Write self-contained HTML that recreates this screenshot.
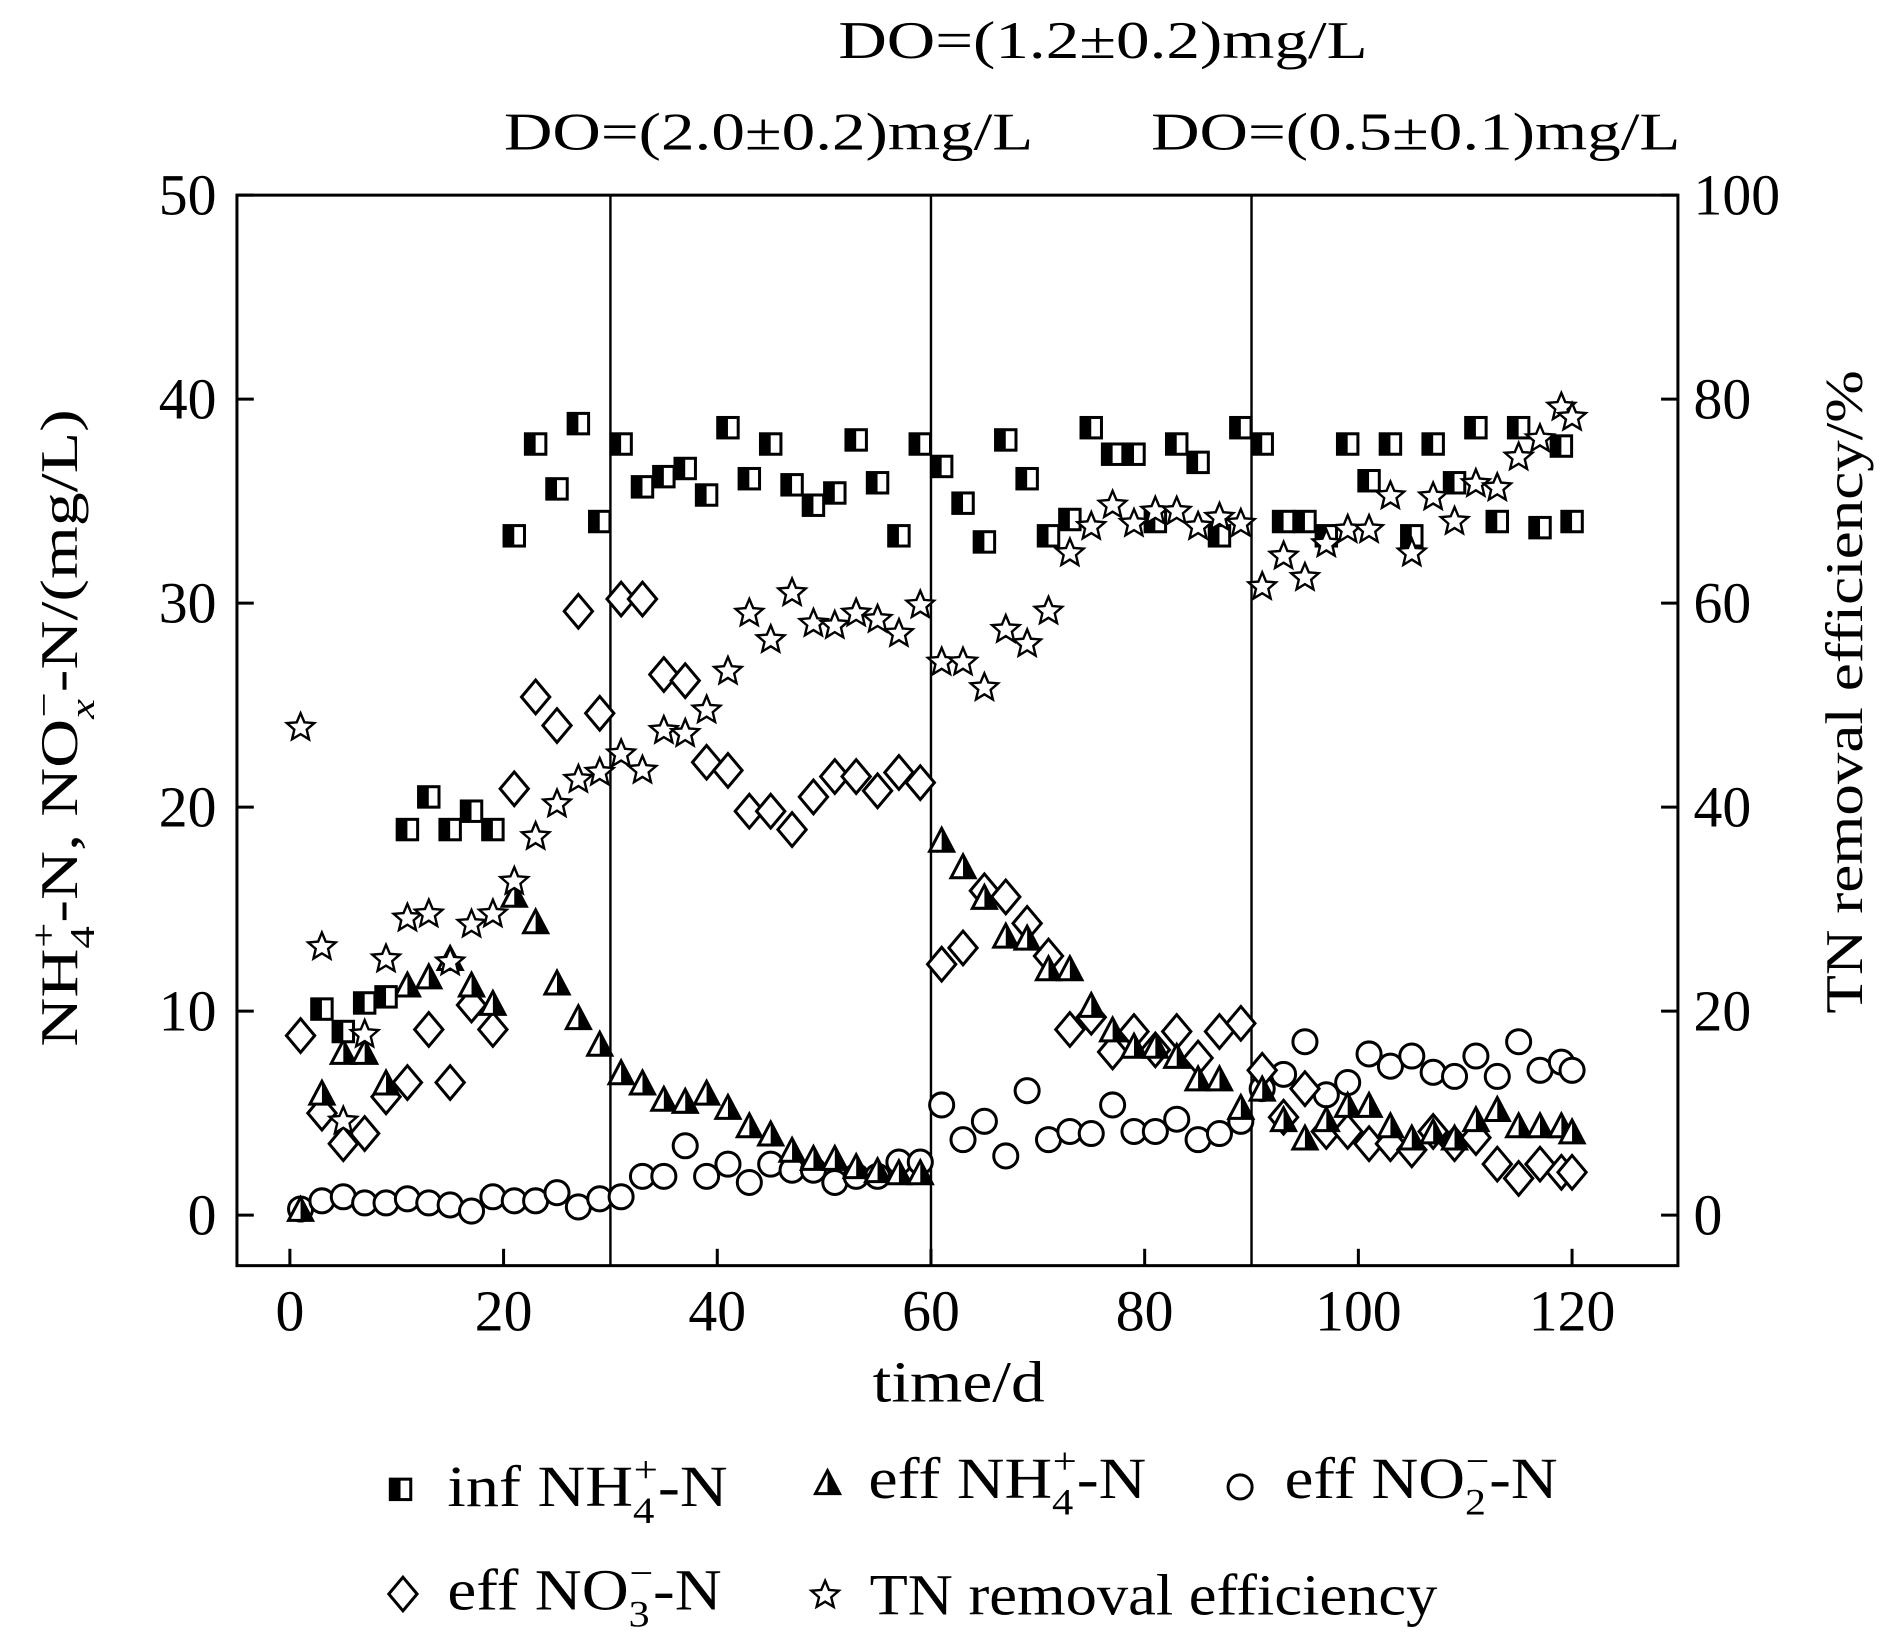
<!DOCTYPE html>
<html><head><meta charset="utf-8"><style>
html,body{margin:0;padding:0;background:#fff;}
svg{display:block;}
text{font-family:"Liberation Serif",serif;fill:#000;}
</style></head><body>
<svg id="chart" width="1886" height="1640" viewBox="0 0 1568 1363" xmlns="http://www.w3.org/2000/svg">
<g id="static">
<text x="917" y="48" font-size="44" text-anchor="middle" textLength="440" lengthAdjust="spacingAndGlyphs">DO=(1.2±0.2)mg/L</text>
<text x="639" y="124" font-size="44" text-anchor="middle" textLength="440" lengthAdjust="spacingAndGlyphs">DO=(2.0±0.2)mg/L</text>
<text x="1177" y="124" font-size="44" text-anchor="middle" textLength="440" lengthAdjust="spacingAndGlyphs">DO=(0.5±0.1)mg/L</text>
<rect x="197" y="162" width="1198" height="890" fill="none" stroke="#000" stroke-width="2.5"/>
<text x="797" y="1165" font-size="48" text-anchor="middle" textLength="143" lengthAdjust="spacingAndGlyphs">time/d</text>
<text transform="translate(64,605) rotate(-90)" font-size="44" text-anchor="middle" textLength="530" lengthAdjust="spacingAndGlyphs">NH<tspan font-size="29" dy="14">4</tspan><tspan font-size="29" dx="-14" dy="-32">+</tspan><tspan font-size="44" dy="18">-N, NO</tspan><tspan font-size="29" dy="14" font-style="italic">x</tspan><tspan font-size="29" dx="-12" dy="-32">−</tspan><tspan font-size="44" dy="18">-N/(mg/L)</tspan></text>
<text transform="translate(1548,575) rotate(-90)" font-size="44" text-anchor="middle" textLength="535" lengthAdjust="spacingAndGlyphs">TN removal efficiency/%</text>
<g>
<text x="372" y="1252" font-size="48" textLength="233" lengthAdjust="spacingAndGlyphs">inf NH<tspan font-size="31" dy="14">4</tspan><tspan font-size="31" dx="-15" dy="-34">+</tspan><tspan font-size="48" dy="20">-N</tspan></text>
<text x="722" y="1245" font-size="48" textLength="231" lengthAdjust="spacingAndGlyphs">eff NH<tspan font-size="31" dy="14">4</tspan><tspan font-size="31" dx="-15" dy="-34">+</tspan><tspan font-size="48" dy="20">-N</tspan></text>
<text x="1068" y="1245" font-size="48" textLength="227" lengthAdjust="spacingAndGlyphs">eff NO<tspan font-size="31" dy="14">2</tspan><tspan font-size="31" dx="-15" dy="-34">−</tspan><tspan font-size="48" dy="20">-N</tspan></text>
<text x="372" y="1338" font-size="48" textLength="228" lengthAdjust="spacingAndGlyphs">eff NO<tspan font-size="31" dy="14">3</tspan><tspan font-size="31" dx="-15" dy="-34">−</tspan><tspan font-size="48" dy="20">-N</tspan></text>
<text x="723" y="1342" font-size="48" textLength="472" lengthAdjust="spacingAndGlyphs">TN removal efficiency</text>
</g>
</g>
<g id="marks"></g>
</svg>
<script>
const xTicks=[0,20,40,60,80,100,120];
const yTicks=[0,10,20,30,40,50];
const y2Ticks=[0,20,40,60,80,100];
const phaseBoundaries=[30,60,90];

const infDays=[3,5,7,9,11,13,15,17,19,21,23,25,27,29,31,33,35,37,39,41,43,45,47,49,51,53,55,57,59,61,63,65,67,69,71,73,75,77,79,81,83,85,87,89,91,93,95,97,99,101,103,105,107,109,111,113,115,117,119,120];
const infNH4=[10.1,9.0,10.4,10.7,18.9,20.5,18.9,19.8,18.9,33.3,37.8,35.6,38.8,34.0,37.8,35.7,36.2,36.6,35.3,38.6,36.1,37.8,35.8,34.8,35.4,38.0,35.9,33.3,37.8,36.7,34.9,33.0,38.0,36.1,33.3,34.1,38.6,37.3,37.3,34.0,37.8,36.9,33.3,38.6,37.8,34.0,34.0,33.3,37.8,36.0,37.8,33.3,37.8,35.9,38.6,34.0,38.6,33.7,37.7,34.0];

const days=[1,3,5,7,9,11,13,15,17,19,21,23,25,27,29,31,33,35,37,39,41,43,45,47,49,51,53,55,57,59,61,63,65,67,69,71,73,75,77,79,81,83,85,87,89,91,93,95,97,99,101,103,105,107,109,111,113,115,117,119,120];
const effNH4=[0.3,6.0,8.0,8.0,6.5,11.3,11.7,12.6,11.3,10.4,15.7,14.4,11.4,9.7,8.4,7.0,6.5,5.7,5.6,6.0,5.3,4.4,4.0,3.2,2.8,2.8,2.4,2.2,2.1,2.1,18.4,17.1,15.6,13.7,13.6,12.1,12.1,10.3,9.1,8.3,8.3,7.8,6.7,6.7,5.3,6.2,4.7,3.8,4.7,5.4,5.4,4.4,3.8,4.1,3.8,4.7,5.2,4.4,4.4,4.4,4.1];
const effNO2=[0.3,0.7,0.9,0.6,0.6,0.8,0.6,0.5,0.2,0.9,0.7,0.7,1.1,0.4,0.8,0.9,1.9,1.9,3.4,1.9,2.5,1.6,2.5,2.2,2.2,1.6,1.9,1.9,2.6,2.6,5.4,3.7,4.6,2.9,6.1,3.7,4.1,4.0,5.4,4.1,4.1,4.7,3.7,4.0,4.6,6.2,6.9,8.5,5.9,6.5,7.9,7.3,7.8,7.0,6.8,7.8,6.8,8.5,7.1,7.5,7.1];
const effNO3=[8.8,5.0,3.5,4.0,5.8,6.5,9.1,6.5,10.3,9.1,20.9,25.4,24.0,29.6,24.6,30.2,30.2,26.5,26.2,22.2,21.8,19.8,19.8,18.9,20.5,21.5,21.5,20.8,21.7,21.2,12.3,13.1,15.9,15.6,14.3,12.7,9.1,9.7,8.0,9.0,8.1,9.0,7.7,9.0,9.4,7.1,4.8,6.2,4.1,4.1,3.5,3.5,3.2,4.1,3.5,3.8,2.5,1.8,2.5,2.1,2.1];
const tnRemoval=[47.8,26.3,9.2,17.7,25.1,29.1,29.5,24.8,28.5,29.5,32.7,37.1,40.3,42.7,43.4,45.2,43.6,47.5,47.2,49.5,53.3,59.0,56.4,61.0,58.0,57.8,59.0,58.4,57.0,59.8,54.2,54.2,51.7,57.4,56.0,59.2,64.9,67.5,69.6,67.8,69.0,69.0,67.5,68.4,67.8,61.6,64.6,62.5,65.8,67.2,67.2,70.5,64.9,70.4,68.0,71.7,71.3,74.3,76.1,79.2,78.2];

const NS='http://www.w3.org/2000/svg';
const X0=197,X1=1395,Y0=162,Y1=1052;
const xs=d=>241+(d-0)*(1307-241)/120;
const ys=v=>1010-v*(1010-162)/50;
const ys2=v=>1010-v*(1010-162)/100;
const marks=document.getElementById('marks');
function el(tag,attrs,parent){const e=document.createElementNS(NS,tag);for(const k in attrs)e.setAttribute(k,attrs[k]);(parent||marks).appendChild(e);return e;}

xTicks.forEach(t=>{
  const l=el('line',{x1:xs(t),x2:xs(t),y1:Y1,y2:Y1-14,stroke:'#000','stroke-width':2.5});
  
  
  const tx=el('text',{x:xs(t),y:1106,'font-size':48,'text-anchor':'middle'});
  tx.textContent=t;
  
  
});
yTicks.forEach(t=>{
  const l=el('line',{x1:X0,x2:X0+14,y1:ys(t),y2:ys(t),stroke:'#000','stroke-width':2.5});
  
  
  const tx=el('text',{x:180,y:ys(t)+16,'font-size':48,'text-anchor':'end'});
  tx.textContent=t;
  
  
});
y2Ticks.forEach(t=>{
  const l=el('line',{x1:X1-14,x2:X1,y1:ys2(t),y2:ys2(t),stroke:'#000','stroke-width':2.5});
  
  
  const tx=el('text',{x:1408,y:ys2(t)+16,'font-size':48,'text-anchor':'start'});
  tx.textContent=t;
  
  
});
phaseBoundaries.forEach(d=>{
  const l=el('line',{x1:xs(d),x2:xs(d),y1:Y0,y2:Y1,stroke:'#000','stroke-width':2});
  
  
});

function square(x,y,s){const g=el('g',{});
  el('rect',{x:x-s/2,y:y-s/2,width:s,height:s,fill:'#fff',stroke:'#000','stroke-width':2.5},g);
  el('rect',{x:x-s/2,y:y-s/2,width:s/2,height:s,fill:'#000'},g);return g;}
function tri(x,y,s){const g=el('g',{});
  const h=s*0.95;
  el('polygon',{points:`${x},${y-h/2} ${x+s/2},${y+h/2} ${x-s/2},${y+h/2}`,fill:'#fff',stroke:'#000','stroke-width':2.5},g);
  el('polygon',{points:`${x},${y-h/2} ${x+s/2},${y+h/2} ${x},${y+h/2}`,fill:'#000'},g);return g;}
function circ(x,y,r){return el('circle',{cx:x,cy:y,r:r,fill:'#fff',stroke:'#000','stroke-width':2.5});}
function diam(x,y,s){return el('polygon',{points:`${x},${y-s/2} ${x+s*0.42},${y} ${x},${y+s/2} ${x-s*0.42},${y}`,fill:'#fff',stroke:'#000','stroke-width':2.5});}
function star(x,y,r){let p=[];for(let i=0;i<10;i++){const a=-Math.PI/2+i*Math.PI/5;const rr=i%2?r*0.45:r;p.push((x+rr*Math.cos(a)).toFixed(1)+','+(y+rr*Math.sin(a)).toFixed(1));}
  return el('polygon',{points:p.join(' '),fill:'#fff',stroke:'#000','stroke-width':2});}

days.forEach((d,i)=>{const m=circ(xs(d),ys(effNO2[i]),10);
  
  });
days.forEach((d,i)=>{const m=diam(xs(d),ys(effNO3[i]),28);
  
  });
days.forEach((d,i)=>{const m=tri(xs(d),ys(effNH4[i]),20);
  
  });
infDays.forEach((d,i)=>{const m=square(xs(d),ys(infNH4[i]),17);
  
  });
days.forEach((d,i)=>{const m=star(xs(d),ys2(tnRemoval[i]),12);
  
  });

const ls1=square(333,1238,17);


const ls2=tri(688,1232,20);


const ls3=circ(1031,1236,10);


const ls4=diam(335,1325,28);


const ls5=star(686,1326,12);


</script>
</body></html>
